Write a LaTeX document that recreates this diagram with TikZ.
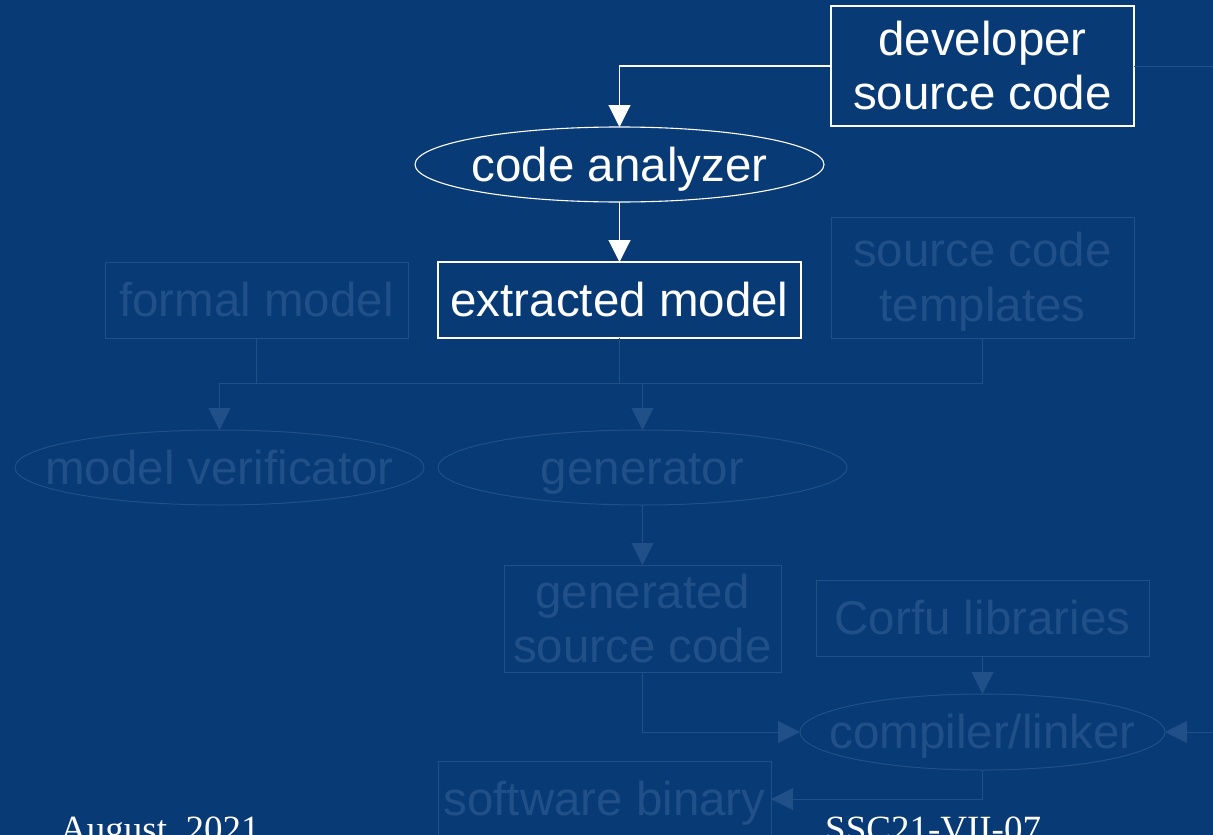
\documentclass[tikz,border=0pt]{standalone}
\usepackage{fontspec}
\setmainfont{Liberation Serif}
\newfontfamily\diagfont{Liberation Sans}
\usetikzlibrary{positioning, shapes.geometric, arrows.meta}
\definecolor{slidebg}{RGB}{8,58,117}
\definecolor{dimmed}{RGB}{33,80,136}

\tikzset{
  box/.style={rectangle, draw=white, line width=1.1pt, text=white, align=center,
    inner sep=0pt, outer sep=0pt, text height=43pt, text depth=10pt,
    font=\diagfont\fontsize{47.5}{54.6}\selectfont},
  twoline/.style={text height=97.6pt},
  oval/.style={ellipse, draw=white, line width=1.1pt, inner sep=0pt, outer sep=0pt,
    minimum width=409pt, minimum height=75pt},
  ovaltext/.style={text=white, inner sep=0pt, text height=43pt, text depth=10pt,
    font=\diagfont\fontsize{47.5}{54.6}\selectfont},
  dim/.style={draw=dimmed, text=dimmed, line width=1pt},
  link/.style={draw=white, line width=1.1pt, -{Triangle[length=22pt, width=22pt]}},
  dimline/.style={draw=dimmed, line width=1pt},
  dimlink/.style={dimline, -{Triangle[length=22pt, width=22pt]}},
  footer/.style={text=white, inner sep=0pt, anchor=base west, font=\fontsize{37}{44}\selectfont}
}

\begin{document}
\begin{tikzpicture}[x=1pt, y=-1pt]
  \fill[slidebg, use as bounding box] (0,0) rectangle (1213,835);
  \clip (0,0) rectangle (1213,835);

  % faded part of the tool chain
  \node[box, dim, minimum width=303pt, minimum height=76pt] (formal) at (256.5,300) {formal model};
  \node[box, dim, twoline, minimum width=303pt, minimum height=121pt] (templates) at (982.5,277.5) {source code\\templates};
  \coordinate (bus) at (619.5,383);
  \node[oval, dim, label={[ovaltext, text=dimmed]center:model verificator}] (verif) at (219.5,467.5) {};
  \node[oval, dim, label={[ovaltext, text=dimmed]center:generator}] (gen) at (642.5,467.5) {};
  \node[box, dim, twoline, minimum width=277pt, minimum height=105pt, below=60pt of gen] (gensrc) {generated\\source code};
  \node[box, dim, minimum width=333pt, minimum height=76pt] (corfu) at (982.5,618) {Corfu libraries};
  \node[oval, dim, minimum width=365pt, minimum height=76pt, below=38pt of corfu,
    label={[ovaltext, text=dimmed]center:compiler/linker}] (linker) {};
  \node[box, dim, minimum width=333pt, minimum height=76pt] (binary) at (604.5,799) {software binary};

  % highlighted part
  \node[box, twoline, minimum width=303pt, minimum height=120pt] (dev) at (982.5,66) {developer\\source code};
  \node[oval, label={[ovaltext]center:code analyzer}] (analyzer) at (619.5,164.5) {};
  \node[box, minimum width=363pt, minimum height=76pt, below=60pt of analyzer] (extracted) {extracted model};

  \draw[dimline] (formal.south) -- (formal.south |- bus);
  \draw[dimline] (extracted.south) -- (bus);
  \draw[dimline] (templates.south) -- (templates.south |- bus);
  \draw[dimline] (verif.north |- bus) -- (templates.south |- bus);
  \draw[dimlink] (verif.north |- bus) -- (verif.north);
  \draw[dimlink] (gen.north |- bus) -- (gen.north);
  \draw[dimlink] (gen) -- (gensrc);
  \draw[dimlink] (gensrc.south) |- (linker.west);
  \draw[dimlink] (corfu) -- (linker);
  \draw[dimlink] (linker.south) |- (binary.east);
  \draw[dimlink] (dev.east) -- ++(90pt,0) |- (linker.east);

  \draw[link] (dev.west) -| (analyzer.north);
  \draw[link] (analyzer) -- (extracted);

  \node[footer] (date) at (60,841.5) {August, 2021};
  \node[footer] (paper) at (825,841.5) {SSC21-VII-07};
\end{tikzpicture}
\end{document}
